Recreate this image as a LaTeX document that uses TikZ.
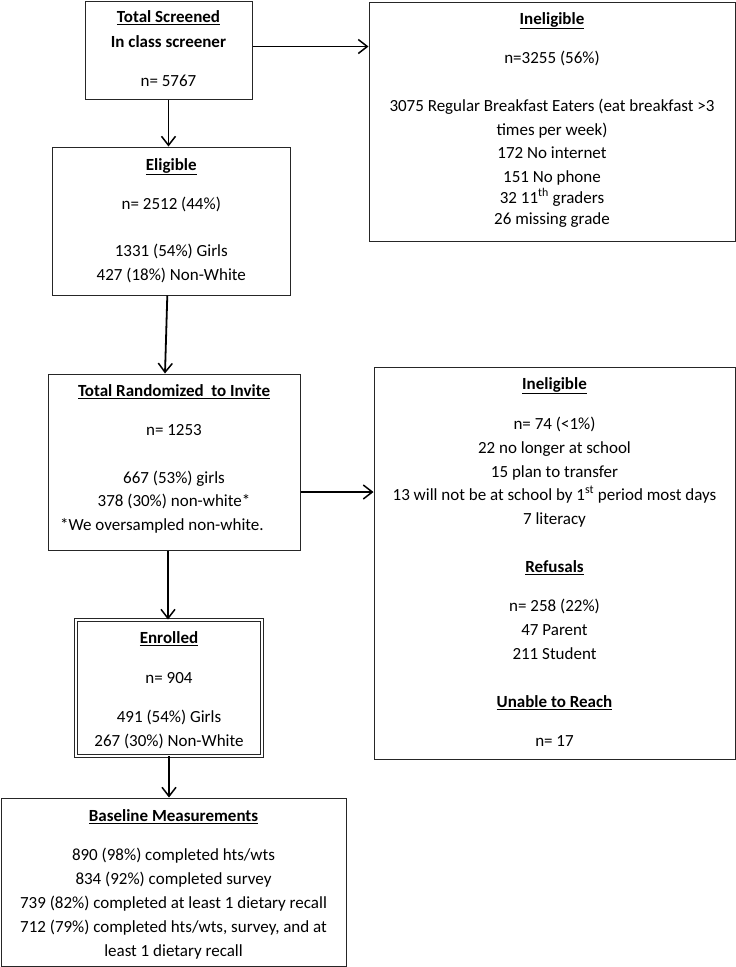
\documentclass[tikz,border=0pt]{standalone}
\usepackage{fontspec}
\setmainfont{Carlito}
\usetikzlibrary{arrows.meta}
\begin{document}
\begin{tikzpicture}[x=1pt,y=-1pt,
  box/.style={draw=black!85,line width=1pt,inner sep=0pt},
  txt/.style={anchor=north,align=center,inner sep=0pt,font={\fontsize{17}{24}\selectfont}},
  arr/.style={line width=1.8pt,-{Straight Barb[length=9pt,width=14pt,line width=1.5pt]}}]
\useasboundingbox (0,0) rectangle (736,967);
\newcommand{\hd}[1]{\underline{\textbf{#1}}}
% boxes
\node[box,minimum width=167pt,minimum height=98pt] (scr) at (168.5,50) {};
\node[box,minimum width=366pt,minimum height=239pt] (in1) at (552,121.5) {};
\node[box,minimum width=237.4pt,minimum height=148pt] (eli) at (171.3,221) {};
\node[box,minimum width=252pt,minimum height=176pt] (ran) at (174,462) {};
\node[box,minimum width=361pt,minimum height=392pt] (in2) at (554.5,563) {};
\node[draw=black!85,line width=0.9pt,double,double distance=1.6pt,inner sep=0pt,minimum width=186pt,minimum height=136pt] (enr) at (169,688) {};
\node[box,minimum width=345pt,minimum height=168pt] (bas) at (173.5,882) {};
% texts
\node[txt] (tscr) at (168.5,5.2) {\hd{Total Screened}\strut\\[1pt]\textbf{In class screener}\strut\\[15pt]n= 5767\strut};
\node[txt] (tin1) at (552,7.2) {\hd{Ineligible}\strut\\[15pt]n=3255 (56\%)\strut\\[24pt]3075 Regular Breakfast Eaters (eat breakfast >3\strut\\times per week)\strut\\[-1pt]172 No internet\strut\\151 No phone\strut\\[-3pt]32 11\textsuperscript{th} graders\strut\\[-3pt]26 missing grade\strut};
\node[txt] (teli) at (171.3,153.2) {\hd{Eligible}\strut\\[15pt]n= 2512 (44\%)\strut\\[23pt]1331 (54\%) Girls\strut\\427 (18\%) Non-White\strut};
\node[txt] (tran) at (174,379.2) {\hd{Total Randomized\ \ to Invite}\strut\\[15pt]n= 1253\strut\\[24pt]667 (53\%) girls\strut\\[-1pt]378 (30\%) non-white*\strut};
\node[anchor=west,inner sep=0pt,font={\fontsize{17}{24}\selectfont}] (tnote) at (60,526) {*We oversampled non-white.};
\node[txt] (tin2) at (554.5,372.2) {\hd{Ineligible}\strut\\[16pt]n= 74 (<1\%)\strut\\22 no longer at school\strut\\15 plan to transfer\strut\\[-1pt]13 will not be at school by 1\textsuperscript{st} period most days\strut\\7 literacy\strut\\[24pt]\hd{Refusals}\strut\\[15pt]n= 258 (22\%)\strut\\47 Parent\strut\\211 Student\strut\\[24pt]\hd{Unable to Reach}\strut\\[15pt]n= 17\strut};
\node[txt] (tenr) at (169,626.2) {\hd{Enrolled}\strut\\[16pt]n= 904\strut\\[15pt]491 (54\%) Girls\strut\\267 (30\%) Non-White\strut};
\node[txt] (tbas) at (173.5,804.2) {\hd{Baseline Measurements}\strut\\[15pt]890 (98\%) completed hts/wts\strut\\834 (92\%) completed survey\strut\\739 (82\%) completed at least 1 dietary recall\strut\\712 (79\%) completed hts/wts, survey, and at\strut\\least 1 dietary recall\strut};
% connectors
\coordinate (a1) at ([yshift=3.5pt]scr.east);
\coordinate (a4) at ([yshift=-30pt]ran.east);
\coordinate (a5) at ([xshift=-6pt]ran.south);
\draw[arr] (a1) -- (in1.west |- a1);
\draw[arr] (scr.south) -- (eli.north -| scr.south);
\draw[arr] ([xshift=-4pt]eli.south) -- ([xshift=-9pt]ran.north);
\draw[arr] (a4) -- (in2.west |- a4);
\draw[arr] (a5) -- (enr.north -| a5);
\draw[arr] (enr.south) -- (bas.north -| enr.south);
\end{tikzpicture}
\end{document}
